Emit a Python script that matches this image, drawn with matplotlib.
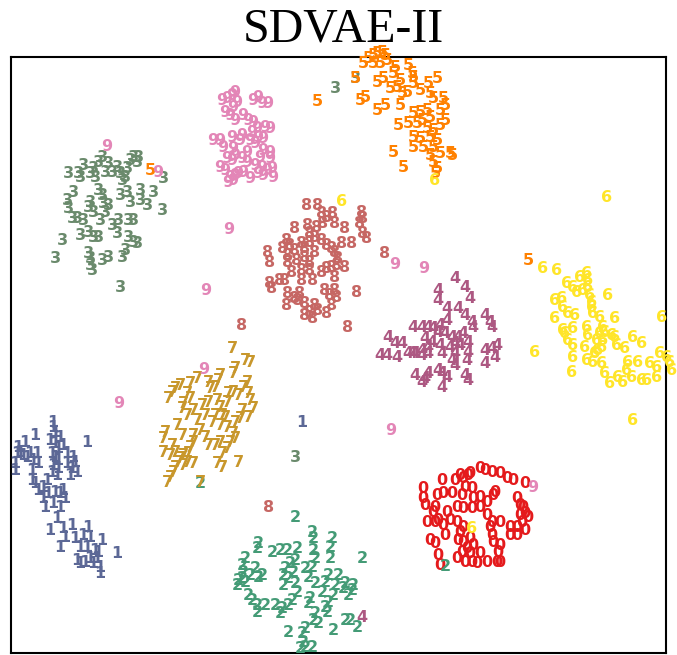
import matplotlib
matplotlib.use("Agg")
import matplotlib.pyplot as plt
from matplotlib.colors import LinearSegmentedColormap

# Embedding coordinates, one list per digit class
pts0 = [(480,468),(485,470),(492,472),(500,473),(507,478),(513,480),(525,483),(442,480),(455,480),
        (460,475),(463,478),(468,475),(470,473),(423,488),(423,498),(425,505),(437,495),(443,493),
        (452,493),(462,495),(465,487),(472,488),(473,498),(480,497),(487,502),(493,495),(495,492),
        (480,507),(472,508),(463,508),(457,507),(435,507),(433,512),(447,512),(450,520),(443,525),
        (438,520),(427,522),(435,522),(457,522),(463,527),(460,532),(487,515),(492,522),(490,527),
        (500,522),(510,527),(517,527),(520,515),(520,505),(517,498),(525,513),(528,517),(522,522),
        (445,535),(430,540),(435,543),(458,540),(463,542),(470,538),(473,545),(467,548),(470,553),
        (462,552),(457,558),(465,562),(472,562),(477,563),(480,553),(487,562),(492,535),(493,542),
        (500,545),(498,552),(500,562),(497,562),(438,555),(440,565),(510,535),(517,535),(525,530),
        (523,507)]
pts1 = [(53,422),(53,427),(55,432),(60,437),(35,435),(25,442),(18,447),(17,453),(20,452),(23,455),
        (27,457),(30,453),(33,460),(37,453),(38,463),(15,463),(15,470),(50,440),(55,443),(58,448),
        (63,445),(52,453),(55,457),(58,460),(67,453),(73,457),(75,462),(67,463),(72,468),(77,472),
        (58,468),(53,465),(52,472),(57,475),(70,475),(32,470),(32,480),(35,483),(38,490),(43,487),
        (47,480),(48,493),(55,492),(60,493),(63,490),(65,498),(43,498),(45,507),(53,503),(60,507),
        (57,518),(50,530),(63,528),(72,525),(65,537),(60,547),(75,538),(83,535),(88,527),(90,537),
        (102,540),(80,547),(87,547),(95,550),(77,560),(80,563),(85,562),(90,558),(93,563),(97,558),
        (100,567),(100,573),(98,552),(117,553),(87,442),(302,422)]
pts2 = [(312,532),(313,538),(332,538),(330,547),(330,558),(362,558),(258,543),(257,548),(272,552),
        (280,550),(287,550),(297,548),(295,560),(290,563),(285,568),(283,575),(283,585),(288,578),
        (293,572),(295,583),(297,592),(292,600),(288,605),(282,608),(275,605),(280,613),(245,558),
        (242,565),(243,572),(238,580),(237,585),(245,582),(250,575),(255,568),(258,577),(262,575),
        (248,595),(252,600),(257,605),(257,612),(313,550),(315,558),(312,567),(305,568),(308,577),
        (315,583),(322,592),(310,598),(308,603),(315,613),(313,620),(318,623),(305,628),(328,575),
        (338,575),(335,585),(333,595),(328,602),(325,607),(327,612),(343,588),(348,595),(353,585),
        (352,590),(345,620),(350,620),(357,627),(333,630),(288,632),(302,633),(303,642),(305,647),
        (312,647),(300,648),(325,582),(345,583),(242,578),(265,605),(200,483),(445,566),(295,517)]
pts3 = [(68,173),(78,173),(80,177),(83,165),(90,173),(93,168),(95,177),(98,162),(102,157),(105,172),
        (108,163),(112,172),(117,167),(120,173),(122,180),(125,177),(127,168),(130,160),(133,157),
        (137,162),(138,157),(163,178),(73,192),(67,200),(68,208),(72,218),(77,218),(83,220),(88,207),
        (90,202),(93,212),(98,190),(102,195),(103,203),(105,212),(100,220),(108,205),(112,225),
        (118,220),(120,195),(127,192),(130,202),(140,190),(140,200),(147,205),(153,192),(162,210),
        (128,220),(133,220),(80,235),(88,232),(93,237),(98,237),(117,233),(128,237),(133,242),
        (137,243),(62,240),(55,258),(88,253),(90,258),(90,265),(92,270),(102,260),(108,257),
        (122,257),(125,250),(120,287),(335,88),(295,457),(355,78)]
pts4 = [(455,278),(465,287),(470,298),(438,290),(438,300),(447,308),(458,308),(465,315),(472,322),
        (473,327),(485,315),(490,322),(492,327),(447,320),(440,325),(433,328),(428,327),(422,327),
        (413,327),(438,332),(445,333),(452,337),(458,337),(463,333),(468,342),(460,345),(455,343),
        (450,347),(440,345),(432,342),(425,338),(428,347),(422,350),(415,353),(408,353),(402,343),
        (395,343),(388,337),(387,355),(380,355),(397,357),(412,353),(422,355),(428,353),(442,353),
        (455,353),(468,352),(485,350),(492,348),(497,345),(485,363),(495,357),(452,360),(455,365),
        (442,373),(447,377),(428,373),(425,378),(422,382),(415,375),(442,387),(465,375),(468,380),
        (467,360),(438,370),(362,617)]
pts5 = [(363,63),(368,58),(373,55),(377,53),(382,52),(385,55),(387,60),(373,63),(380,63),(395,67),
        (393,73),(408,65),(412,73),(413,77),(437,78),(355,78),(377,82),(383,78),(390,88),(397,87),
        (400,80),(402,93),(407,92),(413,83),(420,90),(428,83),(430,93),(433,98),(443,98),(445,105),
        (360,100),(365,97),(377,110),(385,105),(400,105),(413,113),(420,112),(427,110),(430,117),
        (440,110),(445,120),(398,125),(408,123),(417,123),(422,120),(427,128),(433,130),(440,125),
        (413,137),(420,138),(430,137),(437,140),(413,147),(423,147),(433,147),(440,153),(430,155),
        (433,162),(437,168),(435,173),(393,152),(403,167),(450,153),(452,155),(317,101),(150,170),
        (528,260)]
pts6 = [(543,268),(557,270),(567,283),(573,287),(580,277),(587,273),(588,280),(588,287),(583,290),
        (577,292),(555,300),(562,298),(563,307),(590,295),(592,302),(592,307),(593,313),(568,313),
        (575,315),(555,318),(600,317),(615,318),(608,295),(563,330),(565,333),(573,328),(568,340),
        (573,345),(573,357),(572,372),(587,327),(588,335),(585,347),(587,360),(593,362),(595,353),
        (597,340),(600,333),(603,327),(603,340),(602,347),(598,350),(605,332),(612,335),(615,337),
        (617,345),(625,348),(633,337),(642,343),(602,363),(605,373),(610,383),(618,377),(623,382),
        (627,370),(628,362),(632,377),(638,362),(642,380),(647,380),(650,363),(657,367),(657,377),
        (660,353),(667,357),(670,362),(672,370),(662,317),(633,420),(535,352),(607,197),(342,201),
        (435,180),(472,528)]
pts7 = [(232,348),(245,360),(250,362),(235,368),(233,373),(220,375),(218,380),(215,387),(208,382),
        (210,388),(197,378),(190,383),(180,385),(175,388),(172,392),(168,398),(187,393),(190,398),
        (183,403),(182,408),(187,415),(193,410),(197,420),(205,415),(202,405),(208,402),(217,400),
        (220,407),(227,402),(228,393),(233,392),(238,395),(243,387),(247,382),(248,393),(250,400),
        (242,410),(248,417),(253,408),(240,418),(235,422),(225,417),(222,415),(227,427),(220,425),
        (215,415),(212,422),(233,433),(235,438),(230,442),(227,448),(222,453),(220,442),(215,445),
        (208,445),(205,437),(200,430),(193,435),(193,442),(190,447),(188,453),(183,455),(180,458),
        (178,462),(175,467),(173,472),(170,477),(167,482),(165,432),(163,438),(163,452),(170,455),
        (172,445),(175,452),(177,425),(182,435),(183,465),(187,462),(193,463),(217,463),(222,467),
        (238,462),(200,482)]
pts8 = [(307,205),(318,205),(322,213),(327,217),(333,213),(335,223),(323,223),(317,227),(308,225),
        (295,228),(310,233),(315,237),(322,240),(327,245),(332,248),(335,252),(342,243),(352,243),
        (345,228),(362,212),(363,218),(360,223),(363,233),(367,238),(287,240),(283,248),(290,245),
        (295,250),(302,243),(305,248),(310,242),(315,252),(268,252),(270,262),(288,255),(288,262),
        (297,260),(305,257),(310,262),(310,270),(302,270),(292,272),(285,280),(280,280),(270,283),
        (272,288),(302,280),(313,280),(322,272),(327,268),(332,267),(337,265),(345,267),(335,277),
        (325,290),(330,295),(337,297),(335,290),(288,293),(287,305),(295,298),(300,293),(298,300),
        (305,303),(305,315),(310,312),(315,305),(318,310),(313,318),(327,313),(332,305),(357,292),
        (348,327),(385,253),(338,258),(242,325),(269,507)]
pts9 = [(222,100),(227,98),(232,95),(235,92),(237,102),(233,107),(225,112),(230,115),(235,120),
        (243,115),(248,120),(253,122),(257,128),(252,132),(258,137),(265,127),(270,128),(253,100),
        (258,97),(262,103),(268,103),(213,140),(220,140),(223,147),(232,137),(233,148),(240,140),
        (242,135),(250,140),(255,143),(263,138),(263,150),(270,152),(227,158),(232,160),(235,155),
        (242,158),(247,162),(255,165),(262,167),(267,170),(272,168),(220,167),(225,170),(230,177),
        (235,175),(238,173),(250,178),(258,173),(263,175),(273,177),(228,182),(233,180),(243,172),
        (247,152),(260,157),(270,158),(107,146),(158,172),(229,229),(206,290),(204,369),(119,403),
        (391,430),(395,264),(424,268),(533,487)]

digits = ["0", "1", "2", "3", "4", "5", "6", "7", "8", "9"]
groups = [pts0, pts1, pts2, pts3, pts4, pts5, pts6, pts7, pts8, pts9]
title = "SDVAE-II"

W, H = 677, 655
fig = plt.figure(figsize=(W / 100, H / 100), dpi=100)
ax = fig.add_axes([11 / W, 1 - 653 / H, 655 / W, 596 / H])
ax.set_xlim(11, 666)
ax.set_ylim(653, 57)
ax.set_xticks([])
ax.set_yticks([])
for s in ax.spines.values():
    s.set_linewidth(1.5)
    s.set_color("black")

cmap = LinearSegmentedColormap.from_list("set1_interp", plt.cm.Set1.colors)

for d, pts in zip(digits, groups):
    col = cmap(int(d) / 10.0)
    for (x, y) in pts:
        ax.text(x, y, d, color=col, fontsize=11.5, fontweight="bold",
                ha="center", va="center", family="DejaVu Sans")

fig.text(343.5 / W, 1 - 41 / H, title, ha="center", va="baseline",
         fontsize=34.5, family="Liberation Serif")

fig.savefig("out.png", dpi=100)
